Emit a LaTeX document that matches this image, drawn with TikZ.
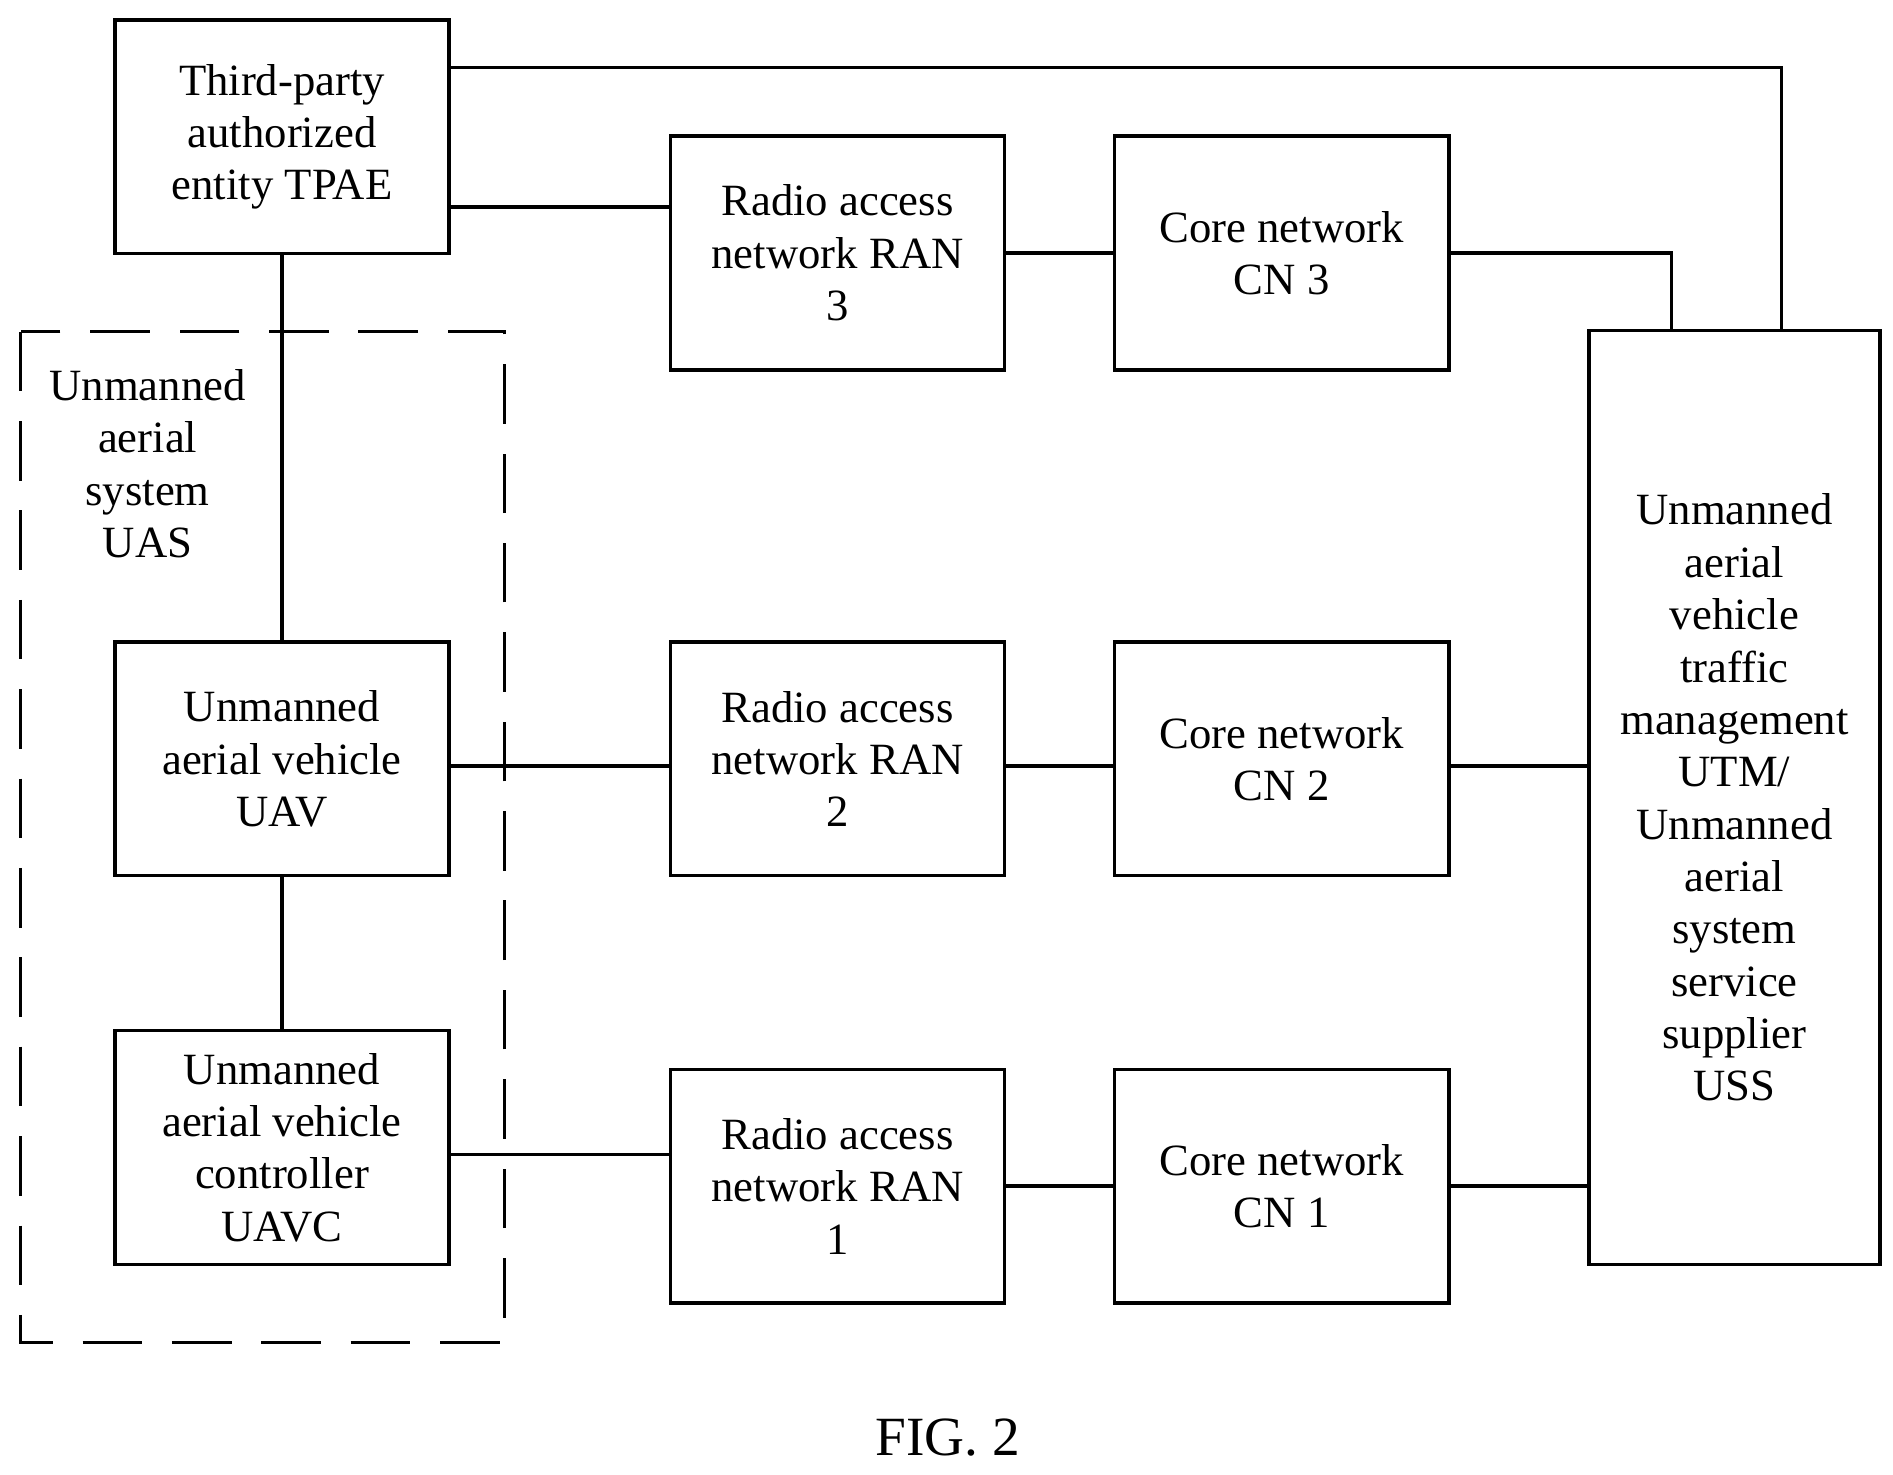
\documentclass[tikz,border=0pt]{standalone}
\usepackage{fontspec}
\setmainfont{Liberation Serif}
\usetikzlibrary{positioning,calc}

\begin{document}
\begin{tikzpicture}[x=0.01cm, y=-0.01cm, thick]
    % Styles
    \tikzstyle{block} = [rectangle, draw, line width=0.8pt, minimum width=2.76cm, minimum height=1.93cm, align=center, font=\fontsize{10.5}{12.3}\selectfont, inner sep=0pt]
    \tikzstyle{link} = [line width=0.8pt]

    \useasboundingbox (0,0) rectangle (1564,1218);

    % Left column
    \node [block] (tpae) at (233,113) {Third-party\\authorized\\entity TPAE};
    \node [block] (uav) at (233,627) {Unmanned\\aerial vehicle\\UAV};
    \node [block] (uavc) at (233,948) {Unmanned\\aerial vehicle\\controller\\UAVC};

    % Access networks
    \node [block] (ran3) at (692,209) {Radio access\\network RAN\\3};
    \node [block] (ran2) at (692,627) {Radio access\\network RAN\\2};
    \node [block] (ran1) at (692,980) {Radio access\\network RAN\\1};

    % Core networks
    \node [block] (cn3) at (1059,209) {Core network\\CN 3};
    \node [block] (cn2) at (1059,627) {Core network\\CN 2};
    \node [block] (cn1) at (1059,980) {Core network\\CN 1};

    % UTM/USS
    \node [block, minimum width=2.40cm, minimum height=7.71cm] (utm) at (1433,659) {Unmanned\\aerial\\vehicle\\traffic\\management\\UTM/\\Unmanned\\aerial\\system\\service\\supplier\\USS};

    % UAS group
    \draw [link, dash pattern=on 14pt off 7pt] (17,274) rectangle (417,1109);
    \node [font=\fontsize{10.5}{12.3}\selectfont, align=center] (uas) at (122,383) {Unmanned\\aerial\\system\\UAS};

    % Connections
    \draw [link] (tpae.east |- 0,56) -| (utm.north -| 1472,0);
    \draw [link] (tpae.east |- 0,171) -- (ran3.west |- 0,171);
    \draw [link] (ran3) -- (cn3);
    \draw [link] (cn3.east) -| (utm.north -| 1381,0);
    \draw [link] (tpae) -- (uav);
    \draw [link] (uav) -- (uavc);
    \draw [link] (uav.east |- 0,633) -- (ran2.west |- 0,633);
    \draw [link] (ran2.east |- 0,633) -- (cn2.west |- 0,633);
    \draw [link] (cn2.east |- 0,633) -- (utm.west |- 0,633);
    \draw [link] (uavc.east |- 0,954) -- (ran1.west |- 0,954);
    \draw [link] (ran1) -- (cn1);
    \draw [link] (cn1) -- (utm.west |- cn1);

    % Caption
    \node [font=\fontsize{13}{15}\selectfont] (fig) at (783,1188) {FIG. 2};
\end{tikzpicture}
\end{document}
